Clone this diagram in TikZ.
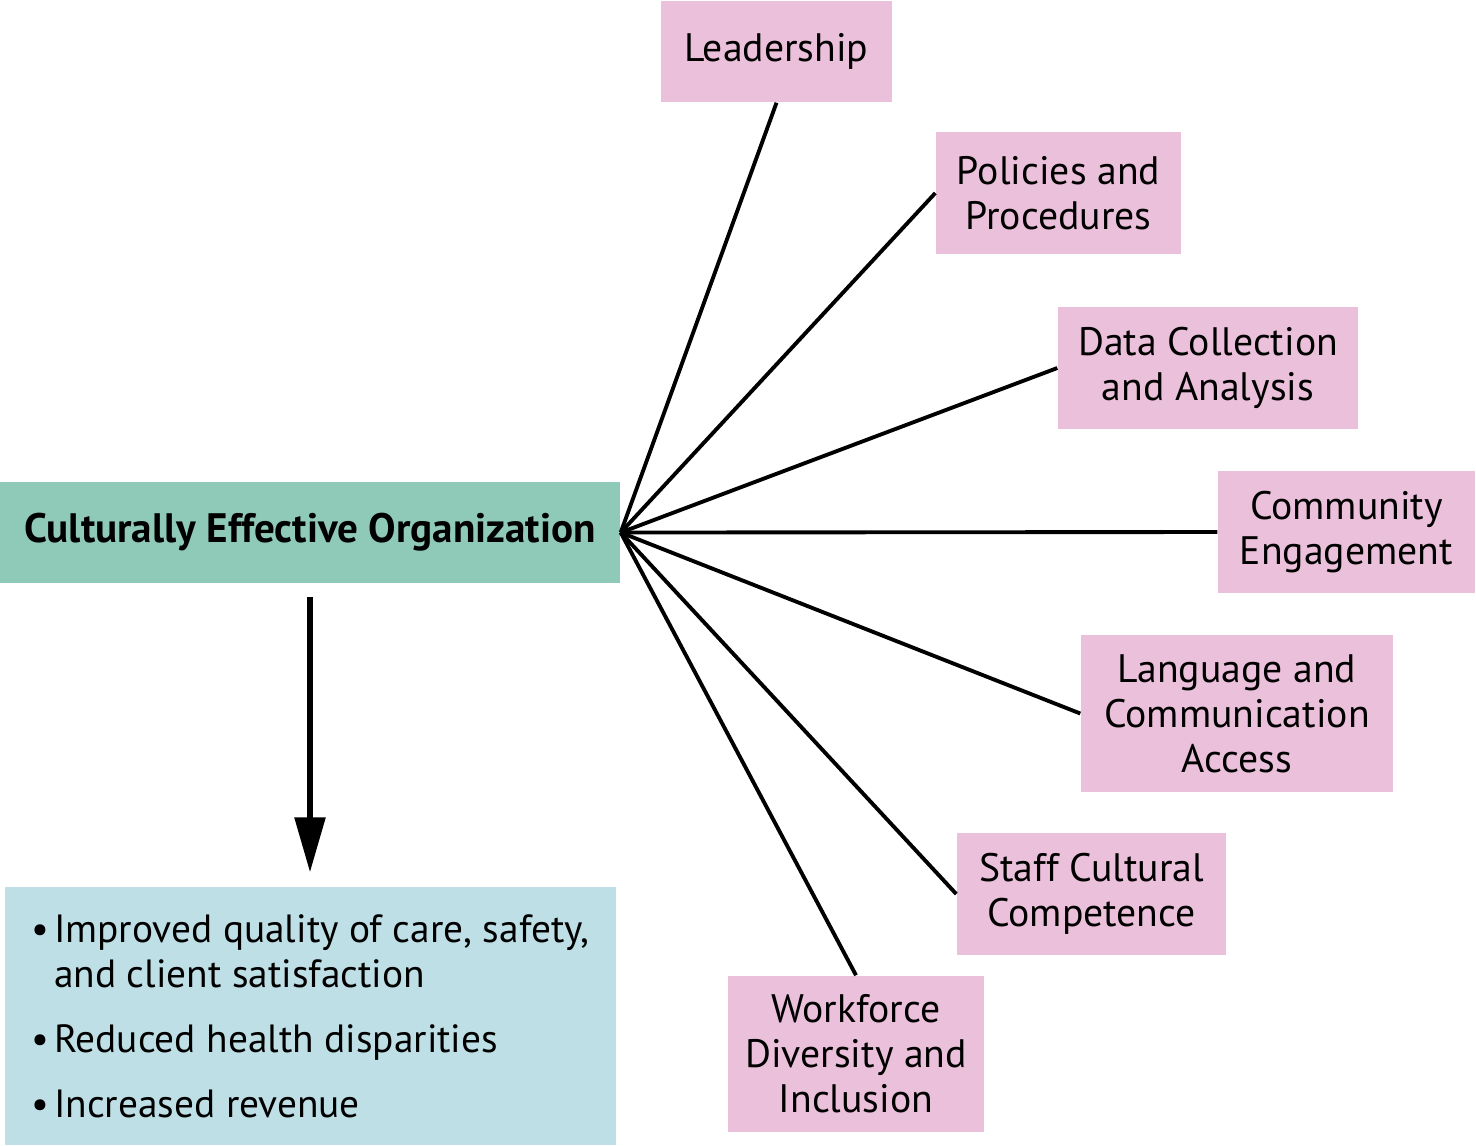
\documentclass[tikz,border=0pt]{standalone}
\usepackage{fontspec}
\setmainfont{PT Sans}
\usetikzlibrary{arrows.meta}
\definecolor{pinkbox}{HTML}{EBC0DA}
\definecolor{greenbox}{HTML}{8FCAB9}
\definecolor{bluebox}{HTML}{BEDFE5}
\newcommand{\itm}{\makebox[0.23cm][l]{\textbullet}}
\begin{document}
\begin{tikzpicture}[
    box/.style={fill=pinkbox, align=center, inner sep=0pt, font=\fontsize{11.3}{12.8}\selectfont},
    spoke/.style={line width=1.1pt}
]
    \useasboundingbox (0,0) rectangle (14.76,-11.45);

    \node[fill=greenbox, minimum width=6.2cm, minimum height=1.01cm, inner sep=0pt,
          font=\fontsize{11.7}{13}\selectfont\bfseries] (org) at (3.10,-5.325) {Culturally Effective Organization};
    \node[fill=bluebox, minimum width=6.11cm, minimum height=2.58cm, inner sep=0pt,
          align=left, font=\fontsize{11.2}{12.8}\selectfont] (out) at (3.10,-10.16)
          {\itm Improved quality of care, safety,\\\hspace*{0.23cm}and client satisfaction\\[0.2cm]
           \itm Reduced health disparities\\[0.2cm]\itm Increased revenue};

    \node[box, minimum width=2.31cm, minimum height=1.01cm] (lead) at (7.765,-0.515) {Leadership};
    \node[box, minimum width=2.45cm, minimum height=1.22cm] (pol) at (10.585,-1.93) {Policies and\\Procedures};
    \node[box, minimum width=3.00cm, minimum height=1.22cm] (data) at (12.08,-3.68) {Data Collection\\and Analysis};
    \node[box, minimum width=2.57cm, minimum height=1.22cm] (comm) at (13.465,-5.32) {Community\\Engagement};
    \node[box, minimum width=3.12cm, minimum height=1.57cm] (lang) at (12.37,-7.135) {Language and\\Communication\\Access};
    \node[box, minimum width=2.69cm, minimum height=1.22cm] (staff) at (10.915,-8.94) {Staff Cultural\\Competence};
    \node[box, minimum width=2.56cm, minimum height=1.56cm] (work) at (8.56,-10.54) {Workforce\\Diversity and\\Inclusion};

    \draw[spoke] (org.east) -- (lead.south);
    \draw[spoke] (org.east) -- (pol.west);
    \draw[spoke] (org.east) -- (data.west);
    \draw[spoke] (org.east) -- (comm.west);
    \draw[spoke] (org.east) -- (lang.west);
    \draw[spoke] (org.east) -- (staff.west);
    \draw[spoke] (org.east) -- (work.north);

    \draw[line width=1.6pt, -{Triangle[length=0.55cm, width=0.3cm]}, shorten <=0.13cm, shorten >=0.14cm] (org) -- (out);
\end{tikzpicture}
\end{document}
